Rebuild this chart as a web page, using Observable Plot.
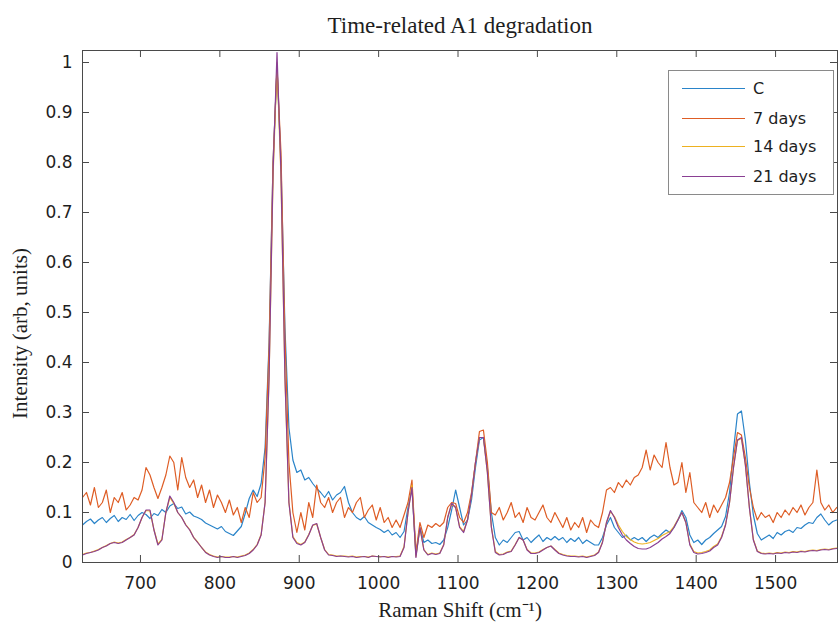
<!DOCTYPE html>
<html>
<head>
<meta charset="utf-8">
<script src="https://cdn.jsdelivr.net/npm/d3@7"></script>
<script src="https://cdn.jsdelivr.net/npm/@observablehq/plot@0.6"></script>
<style>
  body { margin: 0; background: #fff; }
  #wrap { position: relative; width: 838px; height: 626px; overflow: hidden; }
  #legend { position: absolute; left: 668px; top: 70px; width: 166px; height: 125px; box-sizing: border-box;
            border: 1px solid #8a8a8a; background: #fff; font-family: "DejaVu Sans", sans-serif; font-size: 16px; color: #1e1e1e; }
  .item { position: absolute; left: 0; height: 20px; }
  .item .sw { position: absolute; left: 13px; width: 63px; top: 9px; height: 0; border-top: 1.3px solid; }
  .item .lb { position: absolute; left: 84px; top: 0; white-space: nowrap; line-height: 20px; }
</style>
</head>
<body>
<div id="wrap"></div>
<script>
// Raman shift sampling grid (cm^-1)
const wavenumbers = d3.range(627, 1578, 5);

const seriesNames = ["C", "7 days", "14 days", "21 days"];
const seriesColors = ["#2a84c9", "#de5d25", "#EDB120", "#8a3f93"];

const valuesC = [
  0.075, 0.082, 0.087, 0.078, 0.085, 0.090, 0.080, 0.088, 0.094, 0.082,
  0.090, 0.086, 0.096, 0.084, 0.094, 0.100, 0.096, 0.088, 0.098, 0.094,
  0.106, 0.100, 0.113, 0.118, 0.108, 0.111, 0.097, 0.101, 0.093, 0.090,
  0.086, 0.079, 0.075, 0.071, 0.067, 0.072, 0.062, 0.058, 0.054, 0.063,
  0.072, 0.098, 0.128, 0.145, 0.132, 0.158, 0.230, 0.440, 0.800, 0.990,
  0.800, 0.470, 0.270, 0.205, 0.180, 0.185, 0.165, 0.170, 0.158, 0.148,
  0.140, 0.130, 0.142, 0.125, 0.135, 0.140, 0.152, 0.120, 0.100, 0.090,
  0.085, 0.092, 0.080, 0.075, 0.070, 0.066, 0.060, 0.065, 0.055, 0.060,
  0.050, 0.062, 0.110, 0.148, 0.015, 0.070, 0.040, 0.045, 0.038, 0.040,
  0.036, 0.045, 0.070, 0.105, 0.145, 0.110, 0.075, 0.085, 0.125, 0.190,
  0.245, 0.250, 0.190, 0.100, 0.050, 0.035, 0.045, 0.040, 0.050, 0.060,
  0.062, 0.045, 0.050, 0.040, 0.048, 0.055, 0.042, 0.050, 0.045, 0.052,
  0.045, 0.050, 0.040, 0.048, 0.042, 0.050, 0.038, 0.045, 0.040, 0.035,
  0.035, 0.050, 0.075, 0.090, 0.070, 0.060, 0.050, 0.055, 0.045, 0.050,
  0.045, 0.050, 0.042, 0.050, 0.055, 0.050, 0.058, 0.065, 0.060, 0.070,
  0.085, 0.104, 0.090, 0.055, 0.040, 0.045, 0.036, 0.045, 0.050, 0.058,
  0.065, 0.072, 0.092, 0.140, 0.225, 0.297, 0.303, 0.245, 0.160, 0.095,
  0.058, 0.045, 0.050, 0.055, 0.048, 0.060, 0.055, 0.062, 0.065, 0.060,
  0.070, 0.068, 0.075, 0.080, 0.078, 0.090, 0.097, 0.085, 0.075, 0.082,
  0.085
];

const values7 = [
  0.130, 0.140, 0.115, 0.150, 0.110, 0.120, 0.145, 0.100, 0.130, 0.120,
  0.140, 0.105, 0.115, 0.130, 0.125, 0.145, 0.190, 0.175, 0.150, 0.128,
  0.150, 0.175, 0.213, 0.200, 0.145, 0.210, 0.170, 0.150, 0.165, 0.130,
  0.155, 0.120, 0.145, 0.110, 0.135, 0.120, 0.100, 0.125, 0.095, 0.110,
  0.080, 0.110, 0.090, 0.140, 0.120, 0.130, 0.210, 0.430, 0.800, 0.990,
  0.820, 0.450, 0.200, 0.100, 0.060, 0.100, 0.065, 0.120, 0.090, 0.155,
  0.120, 0.110, 0.130, 0.100, 0.120, 0.130, 0.090, 0.110, 0.100, 0.120,
  0.130, 0.090, 0.105, 0.115, 0.085, 0.110, 0.080, 0.090, 0.070, 0.085,
  0.070, 0.095, 0.120, 0.165, 0.020, 0.080, 0.050, 0.075, 0.070, 0.078,
  0.072, 0.080, 0.110, 0.120, 0.118, 0.090, 0.080, 0.100, 0.140, 0.200,
  0.262, 0.265, 0.200, 0.100, 0.095, 0.110, 0.085, 0.100, 0.120, 0.090,
  0.100, 0.080, 0.110, 0.090, 0.085, 0.100, 0.115, 0.090, 0.080, 0.100,
  0.085, 0.070, 0.090, 0.065, 0.080, 0.070, 0.090, 0.060, 0.085, 0.075,
  0.070, 0.100, 0.145, 0.150, 0.140, 0.160, 0.150, 0.165, 0.155, 0.170,
  0.175, 0.190, 0.225, 0.185, 0.215, 0.200, 0.190, 0.240, 0.190, 0.155,
  0.160, 0.200, 0.140, 0.180, 0.120, 0.110, 0.100, 0.120, 0.090, 0.115,
  0.100, 0.115, 0.130, 0.160, 0.210, 0.260, 0.255, 0.210, 0.150, 0.110,
  0.085, 0.100, 0.090, 0.095, 0.080, 0.100, 0.090, 0.105, 0.095, 0.110,
  0.100, 0.115, 0.095, 0.110, 0.120, 0.185, 0.120, 0.105, 0.115, 0.100,
  0.110
];

const values14 = [
  0.016, 0.019, 0.020, 0.023, 0.026, 0.030, 0.034, 0.038, 0.041, 0.039,
  0.041, 0.046, 0.050, 0.056, 0.070, 0.090, 0.104, 0.103, 0.066, 0.037,
  0.046, 0.100, 0.130, 0.118, 0.100, 0.090, 0.076, 0.066, 0.050, 0.041,
  0.030, 0.021, 0.016, 0.013, 0.011, 0.012, 0.011, 0.011, 0.012, 0.011,
  0.013, 0.015, 0.019, 0.026, 0.036, 0.056, 0.120, 0.370, 0.770, 1.000,
  0.770, 0.370, 0.120, 0.052, 0.040, 0.036, 0.041, 0.056, 0.074, 0.077,
  0.050, 0.026, 0.016, 0.015, 0.013, 0.013, 0.013, 0.012, 0.013, 0.011,
  0.012, 0.012, 0.011, 0.013, 0.012, 0.012, 0.012, 0.011, 0.012, 0.012,
  0.013, 0.032, 0.100, 0.155, 0.012, 0.070, 0.026, 0.016, 0.019, 0.017,
  0.019, 0.036, 0.090, 0.117, 0.110, 0.072, 0.062, 0.086, 0.135, 0.200,
  0.250, 0.250, 0.180, 0.072, 0.022, 0.016, 0.017, 0.021, 0.023, 0.036,
  0.050, 0.045, 0.026, 0.019, 0.019, 0.021, 0.026, 0.030, 0.033, 0.026,
  0.019, 0.016, 0.014, 0.013, 0.013, 0.012, 0.013, 0.011, 0.013, 0.015,
  0.021, 0.041, 0.080, 0.102, 0.092, 0.075, 0.062, 0.052, 0.046, 0.041,
  0.038, 0.037, 0.038, 0.040, 0.044, 0.048, 0.054, 0.058, 0.062, 0.072,
  0.086, 0.100, 0.080, 0.037, 0.022, 0.019, 0.020, 0.022, 0.025, 0.032,
  0.037, 0.052, 0.076, 0.120, 0.190, 0.244, 0.248, 0.194, 0.110, 0.046,
  0.023, 0.019, 0.018, 0.019, 0.018, 0.020, 0.019, 0.021, 0.020, 0.022,
  0.021, 0.023, 0.022, 0.024, 0.025, 0.024, 0.026, 0.027, 0.026, 0.028,
  0.029
];

const values21 = [
  0.015, 0.018, 0.020, 0.022, 0.025, 0.030, 0.033, 0.038, 0.040, 0.038,
  0.040, 0.045, 0.050, 0.055, 0.070, 0.090, 0.105, 0.105, 0.065, 0.035,
  0.045, 0.100, 0.133, 0.120, 0.100, 0.090, 0.075, 0.065, 0.050, 0.040,
  0.030, 0.020, 0.015, 0.012, 0.010, 0.012, 0.010, 0.010, 0.012, 0.010,
  0.012, 0.014, 0.018, 0.025, 0.035, 0.055, 0.120, 0.370, 0.780, 1.020,
  0.780, 0.370, 0.120, 0.050, 0.038, 0.035, 0.040, 0.055, 0.075, 0.078,
  0.050, 0.025, 0.015, 0.014, 0.012, 0.013, 0.012, 0.011, 0.012, 0.010,
  0.011, 0.012, 0.010, 0.013, 0.012, 0.011, 0.012, 0.010, 0.012, 0.011,
  0.012, 0.030, 0.100, 0.150, 0.010, 0.070, 0.025, 0.015, 0.018, 0.016,
  0.018, 0.035, 0.090, 0.118, 0.110, 0.070, 0.060, 0.085, 0.135, 0.200,
  0.250, 0.250, 0.180, 0.070, 0.020, 0.015, 0.016, 0.020, 0.022, 0.035,
  0.050, 0.045, 0.025, 0.018, 0.018, 0.020, 0.025, 0.030, 0.033, 0.025,
  0.018, 0.015, 0.013, 0.012, 0.012, 0.011, 0.012, 0.010, 0.012, 0.014,
  0.020, 0.040, 0.080, 0.104, 0.090, 0.070, 0.055, 0.045, 0.038, 0.032,
  0.028, 0.027, 0.027, 0.030, 0.035, 0.040, 0.047, 0.052, 0.058, 0.070,
  0.085, 0.100, 0.080, 0.035, 0.020, 0.017, 0.018, 0.020, 0.023, 0.030,
  0.035, 0.050, 0.075, 0.120, 0.190, 0.245, 0.250, 0.195, 0.110, 0.045,
  0.022, 0.018, 0.017, 0.018, 0.017, 0.019, 0.018, 0.020, 0.019, 0.021,
  0.020, 0.022, 0.021, 0.023, 0.024, 0.023, 0.025, 0.026, 0.025, 0.027,
  0.028
];

const xTicks = [700, 800, 900, 1000, 1100, 1200, 1300, 1400, 1500];
const yTicks = [0, 0.1, 0.2, 0.3, 0.4, 0.5, 0.6, 0.7, 0.8, 0.9, 1];
const titleText = "Time-related A1 degradation";
const xLabel = "Raman Shift (cm\u207B\u00B9)";
const yLabel = "Intensity (arb, units)";

const allSeries = [valuesC, values7, values14, values21];
const tables = allSeries.map((vals, i) =>
  wavenumbers.map((w, j) => ({ wn: w, v: vals[j], s: seriesNames[i] })));

const W = 838, H = 626, mL = 82, mR = 1, mT = 50, mB = 64;
const plotW = W - mL - mR, plotH = H - mT - mB;
const axisColor = "#4a4a4a";
const serif = "Liberation Serif, serif";

const chart = Plot.plot({
  width: W, height: H,
  marginLeft: mL, marginRight: mR, marginTop: mT, marginBottom: mB,
  style: { fontFamily: "DejaVu Sans, sans-serif", fontSize: "17px", color: "#1e1e1e", background: "#fff" },
  x: { domain: [627, 1578] },
  y: { domain: [0, 1.024] },
  marks: [
    ...tables.map((t, i) => Plot.line(t, { x: "wn", y: "v", stroke: seriesColors[i], strokeWidth: 1.2, clip: true })),
    Plot.frame({ stroke: axisColor, strokeWidth: 1 }),
    Plot.tickX(xTicks, { x: d => d, insetTop: plotH - 7, stroke: axisColor }),
    Plot.tickX(xTicks, { x: d => d, insetBottom: plotH - 7, stroke: axisColor }),
    Plot.tickY(yTicks, { y: d => d, insetRight: plotW - 7, stroke: axisColor }),
    Plot.tickY(yTicks, { y: d => d, insetLeft: plotW - 7, stroke: axisColor }),
    Plot.axisX({ ticks: xTicks, tickSize: 0, tickPadding: 14, label: null, fill: "#1e1e1e", fontSize: 17,
                 tickFormat: d => String(d) }),
    Plot.axisY({ ticks: yTicks, tickSize: 0, tickPadding: 10, label: null, fill: "#1e1e1e", fontSize: 17,
                 tickFormat: d => String(+d.toFixed(1)) }),
    Plot.text([titleText], { text: d => d, frameAnchor: "top", lineAnchor: "middle", textAnchor: "middle", dy: -25,
                             fontFamily: serif, fontSize: 23, fill: "#1e1e1e" }),
    Plot.text([xLabel], { text: d => d, frameAnchor: "bottom", lineAnchor: "middle", textAnchor: "middle", dy: 48,
                          fontFamily: serif, fontSize: 21, fill: "#1e1e1e" }),
    Plot.text([yLabel], { text: d => d, frameAnchor: "left", lineAnchor: "middle", textAnchor: "middle",
                          dx: -62, dy: 27, rotate: -90,
                          fontFamily: serif, fontSize: 21, fill: "#1e1e1e" })
  ]
});

const wrap = document.getElementById("wrap");
wrap.appendChild(chart);

const legend = document.createElement("div");
legend.id = "legend";
const legendTops = [8, 38, 66, 96];
seriesNames.forEach((name, i) => {
  const it = document.createElement("div");
  it.className = "item";
  it.style.top = legendTops[i] + "px";
  const sw = document.createElement("div");
  sw.className = "sw";
  sw.style.borderTopColor = seriesColors[i];
  const lb = document.createElement("div");
  lb.className = "lb";
  lb.textContent = name;
  it.appendChild(sw); it.appendChild(lb);
  legend.appendChild(it);
});
wrap.appendChild(legend);
</script>
</body>
</html>
